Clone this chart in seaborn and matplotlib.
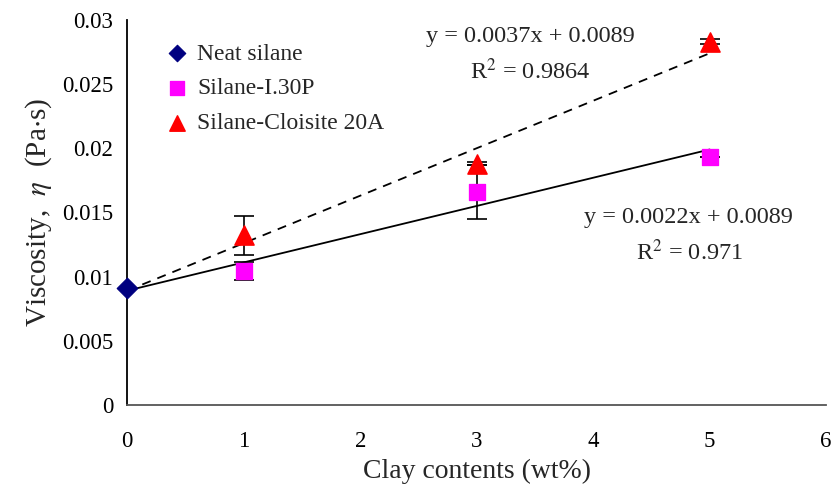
import matplotlib
matplotlib.use("Agg")
import matplotlib.pyplot as plt
import seaborn as sns
import pandas as pd
import numpy as np

# Data
neat_x = [0]
neat_y = [0.0091]
i30p_x = [1, 3, 5]
i30p_y = [0.01045, 0.0166, 0.0193]
i30p_err = [0.0007, 0.0021, 0.0]
c20a_x = [1, 3, 5]
c20a_y = [0.0132, 0.0188, 0.0283]
c20a_err = [0.0015, 0.0001, 0.0002]
fit_x = [0, 5]
fit_solid = (0.0022, 0.0089)   # slope, intercept
fit_dash = (0.0037, 0.0089)
xticks = [0, 1, 2, 3, 4, 5, 6]
yticks = [0, 0.005, 0.01, 0.015, 0.02, 0.025, 0.03]
ytick_labels = ["0", "0.005", "0.01", "0.015", "0.02", "0.025", "0.03"]

sns.set_theme(style="white")
plt.rcParams['font.family'] = ['Liberation Serif', 'DejaVu Serif']
plt.rcParams['mathtext.fontset'] = 'stix'

fig = plt.figure(figsize=(8.37, 4.86), dpi=100)
ax = fig.add_axes([0.152, 0.167, 0.835, 0.792])

line_df = pd.DataFrame({
    "x": fit_x * 2,
    "y": [fit_solid[0] * v + fit_solid[1] for v in fit_x] + [fit_dash[0] * v + fit_dash[1] for v in fit_x],
    "fit": ["solid"] * 2 + ["dash"] * 2,
})
sns.lineplot(data=line_df[line_df.fit == "solid"], x="x", y="y", color="black", lw=1.3, ax=ax, legend=False)
sns.lineplot(data=line_df[line_df.fit == "dash"], x="x", y="y", color="black", lw=1.3, ax=ax, legend=False,
             linestyle=(0, (5, 4)))

ax.errorbar(i30p_x, i30p_y, yerr=i30p_err, fmt="none", ecolor="black", elinewidth=1.2, capsize=7, capthick=1.2, zorder=2)
ax.errorbar(c20a_x, c20a_y, yerr=c20a_err, fmt="none", ecolor="black", elinewidth=1.2, capsize=7, capthick=1.2, zorder=2)

sns.scatterplot(x=neat_x, y=neat_y, marker="D", s=110, color="#000080", edgecolor="#000080", ax=ax,
                label="Neat silane", zorder=3, clip_on=False)
sns.scatterplot(x=i30p_x, y=i30p_y, marker="s", s=140, color="#FF00FF", edgecolor="#FF00FF", ax=ax,
                label="Silane-I.30P", zorder=3)
sns.scatterplot(x=c20a_x, y=c20a_y, marker="^", s=190, color="#FF0000", edgecolor="#FF0000", ax=ax,
                label="Silane-Cloisite 20A", zorder=3)

ax.set_xlim(0, 6)
ax.set_ylim(0, 0.03)
ax.set_xticks(xticks)
ax.set_yticks(yticks)
ax.set_yticklabels(ytick_labels)
ax.tick_params(axis="both", direction="in", length=5, width=1, labelsize=16.5, colors="black", pad=10)
ax.tick_params(axis="x", pad=19)
for s in ["top", "right"]:
    ax.spines[s].set_visible(False)
ax.spines["left"].set_color("black")
ax.spines["bottom"].set_color("#555555")
ax.spines["left"].set_linewidth(1.3)
ax.spines["bottom"].set_linewidth(1.3)
ax.grid(False)

ax.set_xlabel("Clay contents (wt%)", fontsize=20, labelpad=5)
ax.set_ylabel(r"Viscosity,  $\eta$  (Pa$\cdot$s)", fontsize=21, labelpad=6)

leg = ax.legend(loc="upper left", bbox_to_anchor=(0.019, 0.995), frameon=False, fontsize=17,
                handletextpad=0.2, handlelength=1.3, labelspacing=0.56, markerscale=0.8)

ax.text(0.5765, 0.956, "y = 0.0037x + 0.0089", transform=ax.transAxes, ha="center", va="center", fontsize=17.5)
ax.text(0.5765, 0.8675, r"R$^2$ = 0.9864", transform=ax.transAxes, ha="center", va="center", fontsize=17.5)
ax.text(0.803, 0.488, "y = 0.0022x + 0.0089", transform=ax.transAxes, ha="center", va="center", fontsize=17.5)
ax.text(0.805, 0.397, r"R$^2$ = 0.971", transform=ax.transAxes, ha="center", va="center", fontsize=17.5)

fig.savefig("out.png", dpi=100)
